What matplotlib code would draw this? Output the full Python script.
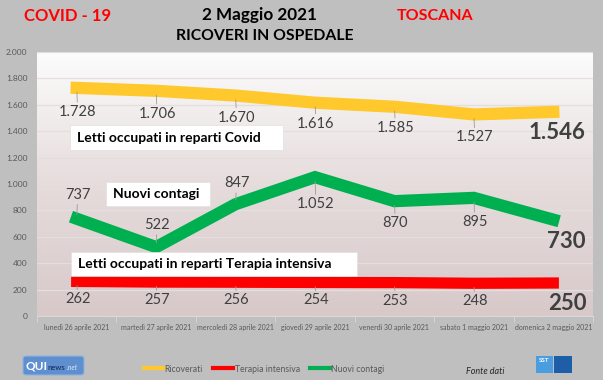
import matplotlib
matplotlib.use("Agg")
import matplotlib.pyplot as plt
import numpy as np
from matplotlib.colors import LinearSegmentedColormap
from matplotlib.patches import Rectangle, FancyBboxPatch
from matplotlib.lines import Line2D

plt.rcParams['font.family'] = ['Lato', 'DejaVu Sans']

# ---- data ----
categories = ['lunedì 26 aprile 2021', 'martedì 27 aprile 2021', 'mercoledì 28 aprile 2021',
              'giovedì 29 aprile 2021', 'venerdì 30 aprile 2021', 'sabato 1 maggio 2021',
              'domenica 2 maggio 2021']
ricoverati = [1728, 1706, 1670, 1616, 1585, 1527, 1546]
terapia = [262, 257, 256, 254, 253, 248, 250]
contagi = [737, 522, 847, 1052, 870, 895, 730]
yticks = [0, 200, 400, 600, 800, 1000, 1200, 1400, 1600, 1800, 2000]
series_names = ['Ricoverati', 'Terapia intensiva', 'Nuovi contagi']

# label placement (pixels offset from point)
ric_off = [-24, -23, -22, -21, -21, -23]
con_off = [24, 22, 21, -27, -22, -24]
ter_off = [-18] * 6

W, H = 603, 380
BG = '#bfbfbf'
YELLOW = '#ffc82c'
RED = '#ff0000'
GREEN = '#00b050'
LBL = '#404040'


def fx(x):
    return x / W


def fy(y):
    return 1 - y / H


def fmt(v):
    return f"{v:,}".replace(',', '.')


fig = plt.figure(figsize=(W / 100, H / 100), dpi=100, facecolor=BG)
ax = fig.add_axes([fx(37), fy(316), fx(593) - fx(37), fy(52) - fy(316)])
ax.set_facecolor('white')

x = np.arange(len(categories))
ax.set_xlim(-0.5, len(categories) - 0.5)
ax.set_ylim(0, 2000)

# gradient background
cmap = LinearSegmentedColormap.from_list('bg', ['#d8c9c9', '#e6dcdc', '#fcfcfc'])
grad = np.linspace(0, 1, 256).reshape(-1, 1)
ax.imshow(grad, extent=[-0.5, len(categories) - 0.5, 0, 2000], aspect='auto',
          cmap=cmap, origin='lower', zorder=0)

ax.set_yticks(yticks)
ax.set_yticklabels([fmt(v) for v in yticks], fontsize=6, color='#595959')
ax.tick_params(axis='y', length=0, pad=7)
ax.grid(axis='y', color='#e4dede', lw=0.9, zorder=1)
ax.set_axisbelow(False)

ax.set_xticks(x)
ax.set_xticklabels(categories, fontsize=5, color='#595959')
ax.set_xticks(np.arange(-0.5, len(categories), 1), minor=True)
ax.tick_params(axis='x', which='major', length=0, pad=6)
ax.tick_params(axis='x', which='minor', length=4, color='#d9d9d9')
for s in ['left', 'right', 'top']:
    ax.spines[s].set_visible(False)
ax.spines['bottom'].set_color('#d9d9d9')

lw = 8.8
ax.plot(x, ricoverati, color=YELLOW, lw=lw, solid_capstyle='projecting',
        solid_joinstyle='miter', zorder=3)
ax.plot(x, terapia, color=RED, lw=lw * 0.92, solid_capstyle='projecting',
        solid_joinstyle='miter', zorder=3)
ax.plot(x, contagi, color=GREEN, lw=lw, solid_capstyle='projecting',
        solid_joinstyle='miter', zorder=3)

ap = dict(arrowstyle='-', color='#9a9a9a', lw=0.6, shrinkA=0, shrinkB=3)


def labels(vals, offs):
    for i, v in enumerate(vals[:-1]):
        ax.annotate(fmt(v), (x[i], v), xytext=(1, offs[i]), textcoords='offset pixels',
                    ha='center', va='center', fontsize=10.5, color=LBL,
                    arrowprops=ap, zorder=5)


labels(ricoverati, ric_off)
labels(contagi, con_off)
labels(terapia, ter_off)

# big final labels
ax.annotate(fmt(ricoverati[-1]), (x[-1], ricoverati[-1]), xytext=(4, -21),
            textcoords='offset pixels', ha='center', va='center', fontsize=16,
            fontweight='bold', color=LBL, zorder=5)
ax.annotate(fmt(contagi[-1]), (x[-1], contagi[-1]), xytext=(13, -22),
            textcoords='offset pixels', ha='center', va='center', fontsize=16,
            fontweight='bold', color=LBL, zorder=5)
ax.annotate(fmt(terapia[-1]), (x[-1], terapia[-1]), xytext=(14, -21),
            textcoords='offset pixels', ha='center', va='center', fontsize=16,
            fontweight='bold', color=LBL, zorder=5)

# text boxes


def box(x0, y0, x1, y1, txt):
    fig.add_artist(Rectangle((fx(x0), fy(y1)), fx(x1) - fx(x0), fy(y0) - fy(y1),
                             transform=fig.transFigure, facecolor='white',
                             edgecolor='#e0e0e0', lw=0.5, zorder=6))
    fig.text(fx(x0 + 7), fy((y0 + y1) / 2), txt, ha='left', va='center',
             fontsize=10, fontweight='bold', color='black', zorder=7)


box(70, 125, 283, 150, 'Letti occupati in reparti Covid')
box(106, 182, 210, 206, 'Nuovi contagi')
box(71, 252, 357, 276, 'Letti occupati in reparti Terapia intensiva')

# titles
fig.text(fx(68), fy(16), 'COVID - 19', ha='center', va='center', fontsize=12,
         fontweight='bold', color='#ff0000')
fig.text(fx(435), fy(16), 'TOSCANA', ha='center', va='center', fontsize=11.5,
         fontweight='bold', color='#ff0000')
fig.text(fx(259), fy(15), '2 Maggio 2021', ha='center', va='center', fontsize=12.3,
         fontweight='bold', color='black')
fig.text(fx(265), fy(36), 'RICOVERI IN OSPEDALE', ha='center', va='center', fontsize=11.3,
         fontweight='bold', color='black')

# legend
handles = [Line2D([], [], color=c, lw=3) for c in (YELLOW, RED, GREEN)]
fig.legend(handles, series_names, loc='center', bbox_to_anchor=(fx(264), fy(369)),
           ncol=3, frameon=False, fontsize=6.2, labelcolor='#595959',
           handlelength=2.3, handletextpad=0.15, columnspacing=1.2)

fig.text(fx(485), fy(371), 'Fonte dati', ha='center', va='center', fontsize=6.5,
         style='italic', color='#262626')

# QUInews logo
fig.add_artist(FancyBboxPatch((fx(23), fy(375)), fx(84) - fx(23), fy(356) - fy(375),
                              boxstyle='round,pad=0,rounding_size=0.006',
                              transform=fig.transFigure, facecolor='#5f8fcf',
                              edgecolor='#8fb3e0', lw=0.8, zorder=6))
fig.text(fx(25), fy(366), 'QUI', ha='left', va='center', fontsize=8.5,
         fontweight='bold', color='white', zorder=7)
fig.text(fx(47.5), fy(367), 'news', ha='left', va='center', fontsize=5.5,
         fontweight='bold', color='#1f3f70', zorder=7)
fig.text(fx(67), fy(367), '.net', ha='left', va='center', fontsize=5,
         style='italic', color='#d8e6f7', zorder=7)

# SST logo
fig.add_artist(Rectangle((fx(536), fy(373)), fx(553) - fx(536), fy(356) - fy(373),
                         transform=fig.transFigure, facecolor='#4a9ee0', zorder=6))
fig.add_artist(Rectangle((fx(554), fy(373)), fx(572) - fx(554), fy(356) - fy(373),
                         transform=fig.transFigure, facecolor='#1e5ea8', zorder=6))
fig.text(fx(544.5), fy(361), 'SST', ha='center', va='center', fontsize=4.5,
         fontweight='bold', color='white', zorder=7)

fig.savefig('out.png', dpi=100, facecolor=BG)
